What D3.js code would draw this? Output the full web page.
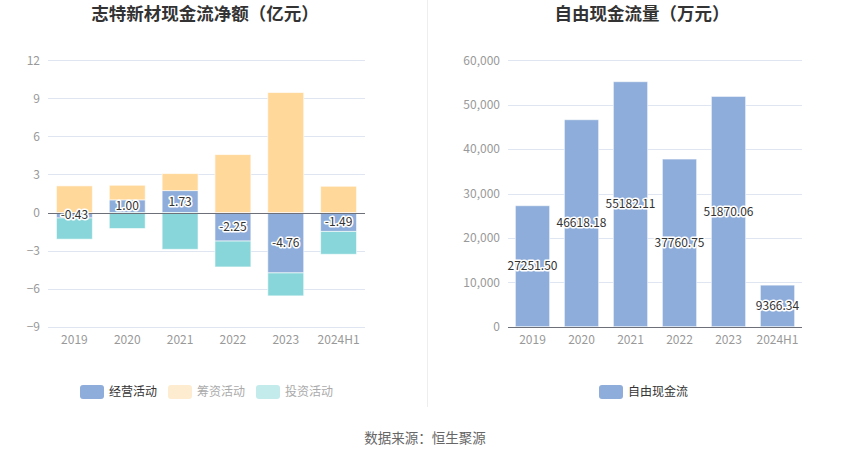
<!DOCTYPE html>
<html>
<head>
<meta charset="utf-8">
<script src="https://cdn.jsdelivr.net/npm/d3@7/dist/d3.min.js"></script>
<style>
  body { margin: 0; background: #fff; }
  svg { display: block; font-family: "Noto Sans CJK SC", "Noto Sans", sans-serif; }
</style>
</head>
<body>
<svg id="chart" width="850" height="459"></svg>
<script>
// data
var years = ["2019", "2020", "2021", "2022", "2023", "2024H1"];
var operating = [-0.43, 1.00, 1.73, -2.25, -4.76, -1.49];   // 经营活动
var financing = [2.10, 1.15, 1.34, 4.57, 9.46, 2.07];       // 筹资活动
var investing = [-1.67, -1.26, -2.90, -2.04, -1.81, -1.80]; // 投资活动
var freeCash = [27251.50, 46618.18, 55182.11, 37760.75, 51870.06, 9366.34];
var leftTicks = [-9, -6, -3, 0, 3, 6, 9, 12];
var rightTicks = [0, 10000, 20000, 30000, 40000, 50000, 60000];

var colOp = "#8eadda", colFin = "#ffd89a", colInv = "#88d6d9";

var svg = d3.select("#chart");

// divider between the two charts
svg.append("line").attr("x1", 427.5).attr("x2", 427.5).attr("y1", 0).attr("y2", 407)
  .attr("stroke", "#eeeeee");

// titles
svg.append("text").attr("x", 205).attr("y", 20).attr("text-anchor", "middle")
  .attr("font-size", 17.5).attr("font-weight", "bold").attr("fill", "#333")
  .text("志特新材现金流净额（亿元）");
svg.append("text").attr("x", 642).attr("y", 20).attr("text-anchor", "middle")
  .attr("font-size", 17.5).attr("font-weight", "bold").attr("fill", "#333")
  .text("自由现金流量（万元）");

// ---------- left chart ----------
var xL = d3.scaleBand().domain(years).range([48, 365]).paddingInner(0.32).paddingOuter(0.16);
var yL = d3.scaleLinear().domain([-9, 12]).range([326.7, 60.3]);

var gL = svg.append("g");
gL.append("g").selectAll("line").data(leftTicks).enter().append("line")
  .attr("x1", 48).attr("x2", 365)
  .attr("y1", function(d) { return Math.round(yL(d)) + 0.5; })
  .attr("y2", function(d) { return Math.round(yL(d)) + 0.5; })
  .attr("stroke", "#e0e6f1");

var yAxisL = d3.axisLeft(yL).tickValues(leftTicks).tickSize(0).tickPadding(8);
gL.append("g").attr("transform", "translate(48,0)").call(yAxisL)
  .call(function(g) { g.select(".domain").remove(); })
  .selectAll("text").attr("fill", "#999").attr("font-size", 12)
  .attr("font-family", "'Noto Sans CJK SC', sans-serif");

var rows = years.map(function(y, i) {
  return { year: y, op: operating[i], fin: financing[i], inv: investing[i] };
});
var stack = d3.stack().keys(["op", "fin", "inv"]).offset(d3.stackOffsetDiverging);
var series = stack(rows);
var colors = { op: colOp, fin: colFin, inv: colInv };

gL.selectAll("g.series").data(series).enter().append("g").attr("class", "series")
  .attr("fill", function(s) { return colors[s.key]; })
  .selectAll("rect").data(function(s) { return s; }).enter().append("rect")
  .attr("x", function(d) { return xL(d.data.year); })
  .attr("width", xL.bandwidth())
  .attr("y", function(d) { return yL(Math.max(d[0], d[1])); })
  .attr("height", function(d) { return Math.abs(yL(d[0]) - yL(d[1])); })
  .attr("stroke", "rgba(255,255,255,0.6)").attr("stroke-width", 1);

// zero line
gL.append("line").attr("x1", 48).attr("x2", 365)
  .attr("y1", Math.round(yL(0)) + 0.5).attr("y2", Math.round(yL(0)) + 0.5)
  .attr("stroke", "#6e7079");

var xAxisL = d3.axisBottom(xL).tickSize(0).tickPadding(0);
gL.append("g").attr("transform", "translate(0,335)").call(xAxisL)
  .call(function(g) { g.select(".domain").remove(); })
  .selectAll("text").attr("fill", "#999").attr("font-size", 12)
  .attr("font-family", "'Noto Sans CJK SC', sans-serif");

// operating labels
gL.append("g").selectAll("text").data(series[0]).enter().append("text")
  .attr("x", function(d) { return xL(d.data.year) + xL.bandwidth() / 2; })
  .attr("y", function(d) { return (yL(d[0]) + yL(d[1])) / 2; })
  .attr("dy", "0.35em").attr("text-anchor", "middle")
  .attr("font-size", 12).attr("fill", "#333")
  .attr("stroke", "#fff").attr("stroke-width", 3).attr("paint-order", "stroke")
  .attr("stroke-linejoin", "round")
  .text(function(d) { return d.data.op.toFixed(2); });

// ---------- right chart ----------
var xR = d3.scaleBand().domain(years).range([508, 802]).paddingInner(0.3).paddingOuter(0.15);
var yR = d3.scaleLinear().domain([0, 60000]).range([326.7, 60.3]);

var gR = svg.append("g");
gR.append("g").selectAll("line").data(rightTicks.slice(1)).enter().append("line")
  .attr("x1", 508).attr("x2", 802)
  .attr("y1", function(d) { return Math.round(yR(d)) + 0.5; })
  .attr("y2", function(d) { return Math.round(yR(d)) + 0.5; })
  .attr("stroke", "#e0e6f1");

var yAxisR = d3.axisLeft(yR).tickValues(rightTicks).tickSize(0).tickPadding(8)
  .tickFormat(d3.format(","));
gR.append("g").attr("transform", "translate(508,0)").call(yAxisR)
  .call(function(g) { g.select(".domain").remove(); })
  .selectAll("text").attr("fill", "#999").attr("font-size", 12)
  .attr("font-family", "'Noto Sans CJK SC', sans-serif");

gR.append("g").selectAll("rect").data(freeCash).enter().append("rect")
  .attr("x", function(d, i) { return xR(years[i]); })
  .attr("width", xR.bandwidth())
  .attr("y", function(d) { return yR(d); })
  .attr("height", function(d) { return yR(0) - yR(d); })
  .attr("fill", colOp)
  .attr("stroke", "rgba(255,255,255,0.6)").attr("stroke-width", 1);

gR.append("line").attr("x1", 508).attr("x2", 802)
  .attr("y1", Math.round(yR(0)) + 0.5).attr("y2", Math.round(yR(0)) + 0.5)
  .attr("stroke", "#6e7079");

var xAxisR = d3.axisBottom(xR).tickSize(0).tickPadding(0);
gR.append("g").attr("transform", "translate(0,335)").call(xAxisR)
  .call(function(g) { g.select(".domain").remove(); })
  .selectAll("text").attr("fill", "#999").attr("font-size", 12)
  .attr("font-family", "'Noto Sans CJK SC', sans-serif");

gR.append("g").selectAll("text").data(freeCash).enter().append("text")
  .attr("x", function(d, i) { return xR(years[i]) + xR.bandwidth() / 2; })
  .attr("y", function(d) { return (yR(0) + yR(d)) / 2; })
  .attr("dy", "0.35em").attr("text-anchor", "middle")
  .attr("font-size", 12).attr("fill", "#333")
  .attr("stroke", "#fff").attr("stroke-width", 3).attr("paint-order", "stroke")
  .attr("stroke-linejoin", "round")
  .text(function(d) { return d.toFixed(2); });

// ---------- legends ----------
var legendL = [
  { name: "经营活动", icon: "#8eadda", text: "#333", x: 80 },
  { name: "筹资活动", icon: "#feecd0", text: "#aaa", x: 168 },
  { name: "投资活动", icon: "#c4ebeb", text: "#aaa", x: 256 }
];
var legendR = [{ name: "自由现金流", icon: "#8eadda", text: "#333", x: 599 }];

function drawLegend(items) {
  var g = svg.append("g").selectAll("g").data(items).enter().append("g")
    .attr("transform", function(d) { return "translate(" + d.x + ",385)"; });
  g.append("rect").attr("width", 24).attr("height", 14).attr("rx", 3)
    .attr("fill", function(d) { return d.icon; });
  g.append("text").attr("x", 29).attr("y", 7).attr("dy", "0.35em")
    .attr("font-size", 12).attr("fill", function(d) { return d.text; })
    .text(function(d) { return d.name; });
}
drawLegend(legendL);
drawLegend(legendR);

// source
svg.append("text").attr("x", 425).attr("y", 438).attr("dy", "0.35em")
  .attr("text-anchor", "middle").attr("font-size", 13.5).attr("fill", "#666")
  .text("数据来源：恒生聚源");
</script>
</body>
</html>
